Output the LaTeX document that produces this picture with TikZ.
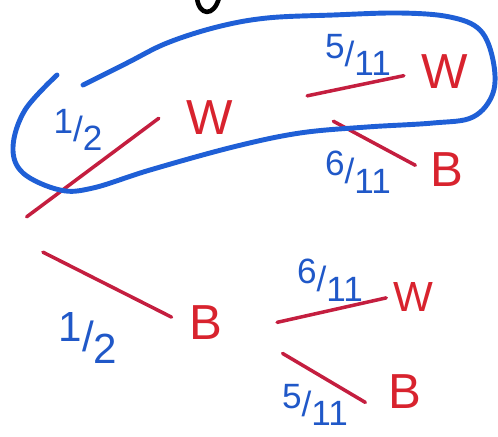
\documentclass[tikz,border=0pt]{standalone}
\usepackage{fontspec}
\setmainfont{Liberation Sans}
\definecolor{penred}{HTML}{D8232E}
\definecolor{branchred}{HTML}{C41E3F}
\definecolor{penblue}{HTML}{2058C8}
\definecolor{loopblue}{HTML}{1F5FD6}
\newcommand{\handfrac}[2]{\raisebox{.45ex}{#1}/\raisebox{-.5ex}{#2}}

\begin{document}
\begin{tikzpicture}[x=0.02cm,y=-0.02cm,line cap=round,line join=round]
  \tikzset{
    outcome/.style={text=penred,font=\fontsize{28}{28}\selectfont,inner sep=0pt,minimum width=.9cm,minimum height=.8cm},
    prob/.style={text=penblue,font=\fontsize{20}{20}\selectfont,inner sep=0pt},
    branch/.style={draw=branchred,line width=2pt}
  }
  \useasboundingbox (0,0) rectangle (498,437);

  % scrap of a letter cut off at the top
  \draw[black,line width=2.6pt] (197,-2) .. controls (199,16) and (214,17) .. (219,-2);

  % first draw
  \coordinate (root) at (5,233);
  \node[outcome] (W1) at (210,118) {W};
  \node[outcome] (B1) at (206,323) {B};
  \draw[branch,shorten <=0.54cm,shorten >=0.69cm] (root) -- (W1.north west);
  \draw[branch,shorten <=0.85cm,shorten >=0.26cm] (root) -- (B1.west);
  \node[prob] (pW1) at (78,130) {\handfrac{1}{2}};
  \node[prob,font=\fontsize{24}{24}\selectfont] (pB1) at (88,338) {\handfrac{1}{2}};

  % second draw after W
  \coordinate (Wfork) at ([shift={(82,-19)}]W1.center);
  \node[outcome] (WW) at (445,72) {W};
  \node[outcome] (WB) at (447,170) {B};
  \draw[branch,shorten <=0.31cm,shorten >=0.36cm] (Wfork) -- (WW.west);
  \draw[branch,shorten <=0.94cm,shorten >=0.20cm] (Wfork) -- (WB.west);
  \node[prob] (pWW) at (358,55) {\handfrac{5}{11}};
  \node[prob] (pWB) at (358,172) {\handfrac{6}{11}};

  % second draw after B
  \coordinate (Bfork) at ([shift={(37,7)}]B1.center);
  \node[outcome,font=\fontsize{24}{24}\selectfont] (BW) at (413,297) {W};
  \node[outcome] (BB) at (405,392) {B};
  \draw[branch,shorten <=0.70cm,shorten >=0.08cm] (Bfork) -- (BW.west);
  \draw[branch,shorten <=0.92cm,shorten >=0.39cm] (Bfork) -- (BB.south west);
  \node[prob] (pBW) at (330,280) {\handfrac{6}{11}};
  \node[prob] (pBB) at (315,405) {\handfrac{5}{11}};

  % ring round the W,W path
  \draw[loopblue,line width=2.8pt] plot[smooth,tension=.6] coordinates {
    (57,75) (25,110) (13,147) (23,173) (60,190) (93,188) (150,170) (233,147)
    (300,133) (367,127) (433,123) (473,117) (493,93) (493,60) (480,30)
    (450,17) (400,13) (333,15) (267,18) (217,27) (167,43) (127,63) (83,85)};
\end{tikzpicture}
\end{document}
